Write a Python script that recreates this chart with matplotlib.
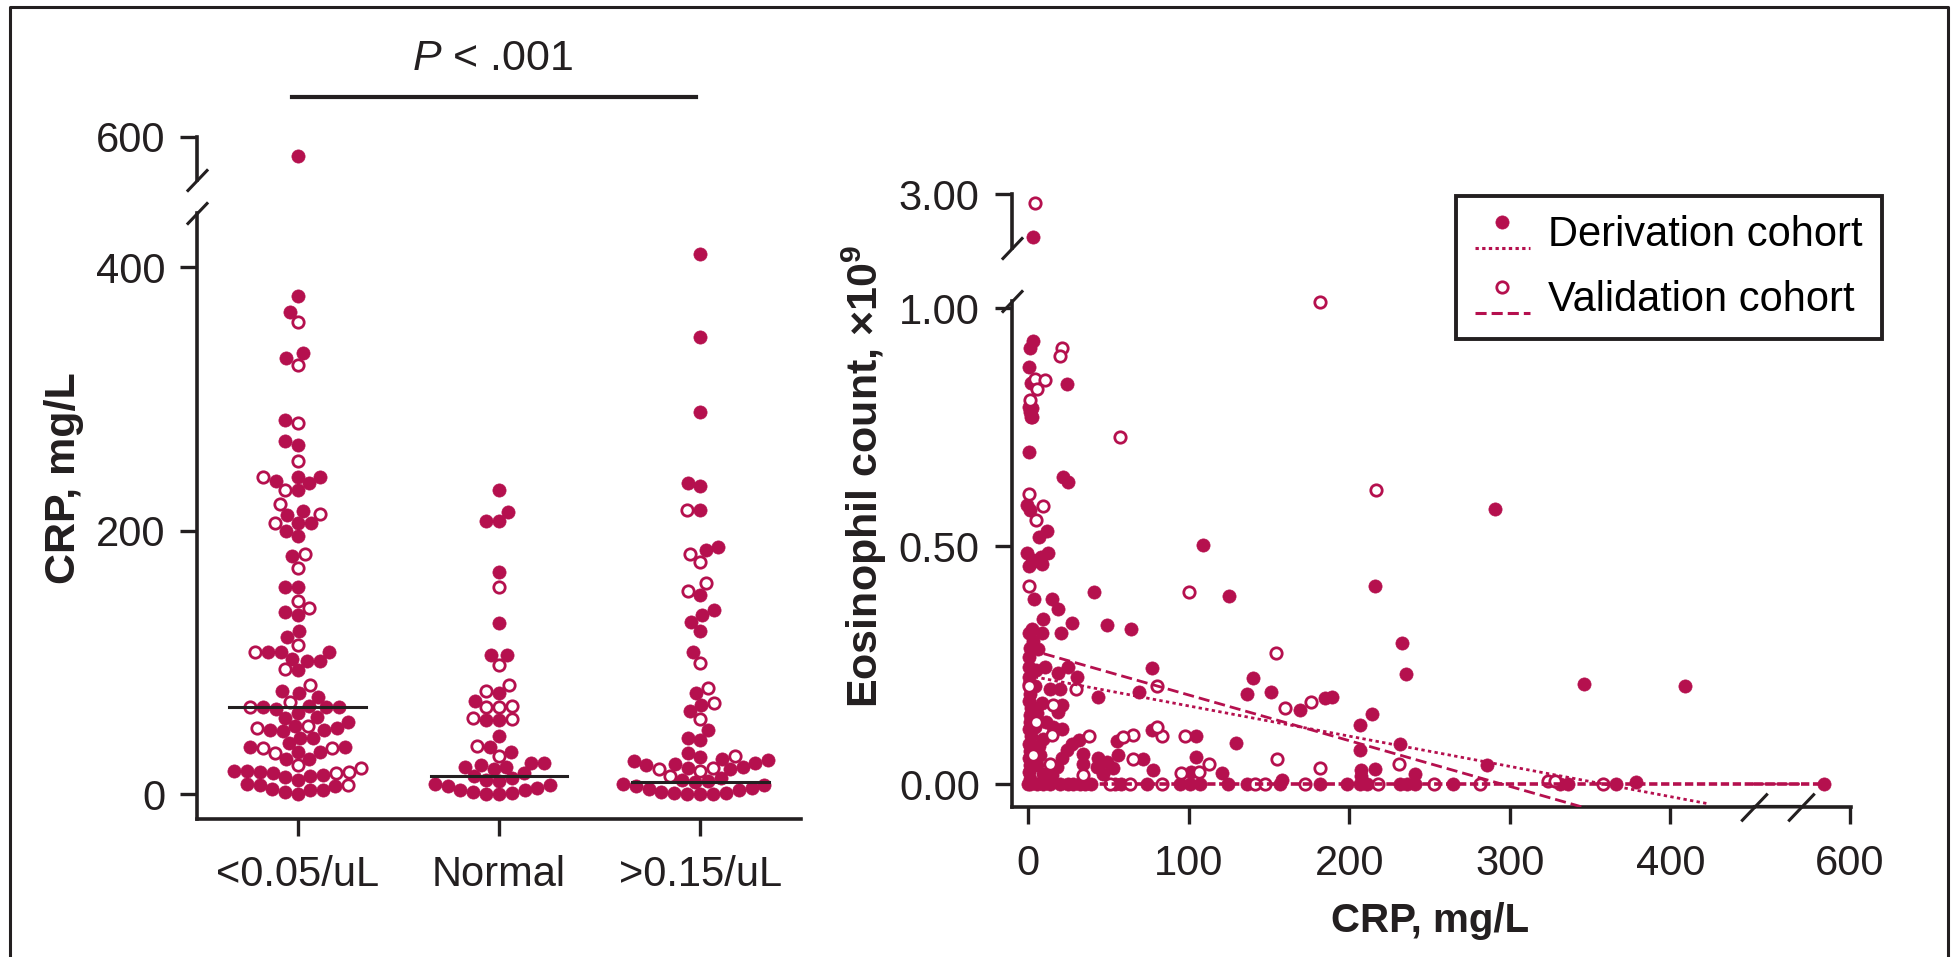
import numpy as np
import matplotlib
matplotlib.use("Agg")
import matplotlib.pyplot as plt
from matplotlib.lines import Line2D
from matplotlib.patches import ConnectionPatch
from matplotlib.legend_handler import HandlerBase

W, H = 1953, 957
CRIMSON = "#B5104E"
INK = "#231F20"

# ---- left panel: CRP by eosinophil group (derivation = filled, validation = open)
groups = ["<0.05/uL", "Normal", ">0.15/uL"]
low_deriv = [585, 378, 366, 335, 331, 284, 268, 265, 241, 241, 238, 236, 231, 215, 212,
             206, 206, 200, 196, 181, 157, 157, 138, 136, 124, 119, 108, 108, 108, 103,
             101, 101, 94, 78, 77, 74, 67, 66, 66, 66, 65, 62, 59, 58, 55, 52, 50, 49, 49,
             48, 43, 43, 39, 36, 36, 32, 32, 27, 27, 18, 18, 17, 16, 15, 14, 13, 11, 8, 7,
             6, 4, 3, 3, 2, 0]
low_valid = [358, 326, 282, 253, 241, 231, 220, 213, 206, 182, 172, 147, 141, 113, 108,
             95, 83, 70, 66, 52, 50, 35, 35, 31, 22, 20, 17, 16, 7]
normal_deriv = [231, 214, 207, 207, 169, 130, 106, 106, 77, 71, 56, 56, 44, 36, 32, 24,
                24, 22, 21, 21, 19, 16, 14, 12, 11, 10, 8, 7, 6, 5, 3, 3, 2, 1, 0, 0]
normal_valid = [157, 98, 83, 78, 67, 66, 66, 58, 57, 37, 29]
high_deriv = [410, 347, 290, 236, 234, 216, 188, 185, 151, 140, 136, 131, 124, 108, 77,
              68, 63, 49, 43, 41, 31, 28, 27, 26, 25, 24, 23, 22, 21, 20, 19, 12, 11, 10,
              9, 8, 7, 6, 5, 4, 3, 2, 1, 1, 0, 0, 0]
high_valid = [216, 182, 176, 160, 154, 100, 81, 69, 57, 29, 20, 19, 18, 14]
group_medians = [66, 14, 9]
left_yticks = [0, 200, 400]
left_yticks_top = [600]

# ---- right panel: eosinophil count vs CRP
deriv_points = [
    (3, 2.76),
    (3.1, 0.931), (1, 0.916), (0.5, 0.875), (1.5, 0.843), (2, 0.79), (2.5, 0.77),
    (23.9, 0.840), (0.5, 0.793), (1.1, 0.782), (1.7, 0.772), (0.6, 0.697), (21.4, 0.646),
    (24.9, 0.635), (290.8, 0.578), (-1, 0.586), (1.1, 0.576), (11.8, 0.532), (6.9, 0.518),
    (109, 0.502), (-0.5, 0.486), (12.5, 0.485), (7.8, 0.477), (2.7, 0.47), (0.3, 0.458),
    (2.3, 0.467), (8.5, 0.463), (3.6, 0.388), (14.5, 0.388), (18.7, 0.367), (41.1, 0.404),
    (125.1, 0.394), (215.8, 0.415), (9.4, 0.347), (27.4, 0.338), (49.2, 0.334), (64, 0.326),
    (0.3, 0.317), (2.3, 0.325), (8.5, 0.317), (20.2, 0.317), (1.1, 0.285), (6.2, 0.283),
    (0.3, 0.267), (0.6, 0.246), (0.5, 0.225), (233, 0.296), (235.1, 0.231), (76.9, 0.244),
    (140.2, 0.222), (136, 0.189), (151, 0.193), (169.3, 0.155), (184.9, 0.180), (189, 0.182),
    (214, 0.147), (206.7, 0.125), (206.7, 0.071), (231.6, 0.084), (285.6, 0.040), (216, 0.031),
    (241, 0.022), (207, 0.029), (207, 0.016), (129.4, 0.086), (104.5, 0.056), (120.5, 0.024),
    (101.2, 0.025), (104.5, 0.101), (76.9, 0.113), (55.1, 0.09), (31.8, 0.092), (27, 0.085),
    (23.9, 0.071), (20.8, 0.054), (17.7, 0.036), (14.6, 0.019), (15.6, 0.12), (20.8, 0.115),
    (20.8, 0.166), (18.7, 0.152), (13.5, 0.199), (19.8, 0.199), (18.7, 0.233), (24.9, 0.245),
    (30.2, 0.225), (43.2, 0.182), (69, 0.193), (56.1, 0.061), (71.3, 0.052), (77.9, 0.029),
    (43.6, 0.054), (48.8, 0.047), (53, 0.033), (42.6, 0.036), (46.7, 0.022), (34.3, 0.064),
    (34.3, 0.043), (346.4, 0.211), (409, 0.206), (331, 0.0), (336, 0.0), (366, 0.0),
    (378.6, 0.005), (584, 0.0),
    (0.5, 0.21), (1, 0.19), (0.5, 0.175), (1.5, 0.16), (0.8, 0.145), (1.2, 0.13), (0.5, 0.115),
    (1.5, 0.10), (0.7, 0.085), (1.2, 0.07), (0.6, 0.055), (1.0, 0.04), (0.5, 0.025), (1.3, 0.01),
    (5, 0.24), (8.5, 0.17), (5.2, 0.15), (9, 0.095), (6.5, 0.08), (7.5, 0.06), (5.5, 0.04),
    (9, 0.02), (4, 0.12), (3, 0.3), (10.5, 0.245), (4, 0.205), (11, 0.13),
    (0, 0), (1, 0), (5.2, 0), (9.2, 0), (13.4, 0), (19.6, 0), (24.8, 0), (27.9, 0), (32.1, 0),
    (35.2, 0), (39.3, 0), (54, 0), (58, 0), (73.7, 0), (94.5, 0), (100.7, 0), (107, 0),
    (124.6, 0), (136, 0), (156.8, 0), (158, 0.008), (181.7, 0), (198.3, 0), (206.7, 0),
    (210.8, 0), (231.6, 0), (235.7, 0), (240.9, 0), (264.8, 0),
]
valid_points = [
    (4, 2.95), (181.9, 1.013), (20.8, 0.915), (19.8, 0.899), (4.2, 0.85), (10.4, 0.849),
    (5.2, 0.829), (1.1, 0.807), (57.1, 0.730), (216.6, 0.618), (0.6, 0.609), (9, 0.584),
    (4.8, 0.555), (0.6, 0.415), (100.1, 0.404), (154.1, 0.275), (80, 0.206), (0.3, 0.206),
    (160, 0.160), (176, 0.173), (231, 0.042), (181.7, 0.033), (155, 0.052), (112.6, 0.042),
    (106.5, 0.026), (95, 0.023), (97.6, 0.101), (83.1, 0.101), (80, 0.12), (65.4, 0.103),
    (59.2, 0.099), (38, 0.101), (13.5, 0.043), (14.7, 0.103), (15.6, 0.166), (29.7, 0.199),
    (65.4, 0.052), (34.3, 0.019), (324, 0.007), (328, 0.007), (358.3, 0.0), (5, 0.13), (3, 0.06),
    (50.8, 0), (63.3, 0), (83, 0), (141.3, 0), (147.5, 0), (172.4, 0), (217.7, 0), (252.8, 0),
    (281.4, 0),
]
# fitted lines: (intercept, slope, x range)
deriv_fit = (0.2275, -0.000635, 0, 423)
valid_fit = (0.283, -0.00096, 0, 360)
zero_line_x = (0, 585)
right_xticks = [0, 100, 200, 300, 400]
right_xticks_far = [600]
right_yticks = [0.0, 0.5, 1.0]
right_yticks_top = [3.0]

plt.rcParams["font.family"] = ["Liberation Sans", "DejaVu Sans"]
plt.rcParams["mathtext.fontset"] = "custom"
plt.rcParams["mathtext.rm"] = "Liberation Sans"
plt.rcParams["mathtext.it"] = "Liberation Sans:italic"
plt.rcParams["mathtext.bf"] = "Liberation Sans:bold"
plt.rcParams["lines.scale_dashes"] = False

TICK_FS = 30
DOTTED = (0, (2.4, 2.4))
DASHED = (0, (8, 3.6))
ZERO_DASH = (0, (6, 2.6))
MS_FILL, MS_OPEN, MEW_OPEN = 9.5, 8.2, 2.0


def add_axes_px(fig, left, top, right, bottom):
    return fig.add_axes([left / W, 1 - bottom / H, (right - left) / W, (bottom - top) / H])


def style_axis(ax, visible, xpad=14, ypad=11):
    for side, sp in ax.spines.items():
        sp.set_visible(side in visible)
        sp.set_linewidth(2.6)
        sp.set_color(INK)
    ax.set_facecolor("none")
    ax.tick_params(direction="out", length=12, width=2.4, color=INK,
                   labelsize=TICK_FS, labelcolor=INK)
    ax.tick_params(axis="x", pad=xpad)
    ax.tick_params(axis="y", pad=ypad)
    if "bottom" not in visible:
        ax.set_xticks([])
    if "left" not in visible:
        ax.set_yticks([])


def break_mark(ax, xa, ya, size=16):
    ax.plot([xa], [ya], marker=[(-1, -1.05), (1, 1.05)], ms=size, mew=2.2, color=INK,
            transform=ax.transAxes, clip_on=False, zorder=6)


def swarm_offsets(values, diam, y_scale, x_scale):
    values = np.asarray(values, dtype=float)
    offsets = np.zeros(len(values))
    placed = []
    for i in np.argsort(values, kind="stable"):
        y = values[i] * y_scale
        near = [(px, py) for px, py in placed if abs(py - y) < diam]
        cands = [0.0]
        for px, py in near:
            dx = np.sqrt(diam ** 2 - (py - y) ** 2)
            cands += [px + dx, px - dx]
        cands.sort(key=lambda c: (round(abs(c), 6), c))
        for c in cands:
            if all((c - px) ** 2 + (y - py) ** 2 >= diam ** 2 - 1e-6 for px, py in near):
                offsets[i] = c
                placed.append((c, y))
                break
    return offsets / x_scale


def plot_in_view(ax, x, y, filled):
    x = np.asarray(x, dtype=float)
    y = np.asarray(y, dtype=float)
    x0, x1 = ax.get_xlim()
    y0, y1 = ax.get_ylim()
    m = (x >= x0) & (x <= x1) & (y >= y0) & (y <= y1)
    if filled:
        ax.plot(x[m], y[m], ls="none", marker="o", ms=MS_FILL, mfc=CRIMSON, mec=CRIMSON,
                mew=0.5, clip_on=False, zorder=3)
    else:
        ax.plot(x[m], y[m], ls="none", marker="o", ms=MS_OPEN, mfc="white", mec=CRIMSON,
                mew=MEW_OPEN, clip_on=False, zorder=4)


class MarkerAboveLine(HandlerBase):
    def __init__(self, filled, dashes):
        super().__init__()
        self.filled = filled
        self.dashes = dashes

    def create_artists(self, legend, orig_handle, xdescent, ydescent, width, height,
                       fontsize, trans):
        x0 = -xdescent
        y_line = -ydescent - 0.06 * height
        y_mark = -ydescent + 0.82 * height
        seg = Line2D([x0, x0 + width], [y_line, y_line], color=CRIMSON, lw=2.2,
                     linestyle=self.dashes, transform=trans)
        dot = Line2D([x0 + width / 2], [y_mark], ls="none", marker="o",
                     ms=MS_FILL if self.filled else MS_OPEN,
                     mfc=CRIMSON if self.filled else "white", mec=CRIMSON,
                     mew=0.5 if self.filled else MEW_OPEN, transform=trans)
        return [seg, dot]


fig = plt.figure(figsize=(W / 100, H / 100), dpi=100)

# outer frame
fig.add_artist(Line2D([10 / W, 10 / W, 1948 / W, 1948 / W], [0, 1 - 7 / H, 1 - 7 / H, 0],
                      transform=fig.transFigure, color=INK, lw=2.2))

# ---------------- left panel ----------------
ax_lo = add_axes_px(fig, 197, 213, 801, 819)
ax_hi = add_axes_px(fig, 197, 136.7, 801, 180)
y_px = (794.3 - 530.7) / 200.0
x_px = 201.3
ax_lo.set_xlim(-0.5, 2.5)
ax_hi.set_xlim(-0.5, 2.5)
ax_lo.set_ylim(-(819 - 794.3) / y_px, (794.3 - 213) / y_px)
ax_hi.set_ylim(600 - (180 - 136.7) / y_px, 600)
style_axis(ax_lo, ["left", "bottom"])
style_axis(ax_hi, ["left"])
ax_lo.set_yticks(left_yticks)
ax_lo.set_yticklabels([str(v) for v in left_yticks])
ax_hi.set_yticks(left_yticks_top)
ax_hi.set_yticklabels([str(v) for v in left_yticks_top])
ax_lo.set_xticks(range(len(groups)))
ax_lo.set_xticklabels(groups)

group_data = [(low_deriv, low_valid), (normal_deriv, normal_valid), (high_deriv, high_valid)]
for gi, (d_vals, v_vals) in enumerate(group_data):
    vals = np.array(d_vals + v_vals, dtype=float)
    kind = np.array([True] * len(d_vals) + [False] * len(v_vals))
    xs = gi + swarm_offsets(vals, 13.0, y_px, x_px)
    for ax in (ax_lo, ax_hi):
        plot_in_view(ax, xs[kind], vals[kind], True)
        plot_in_view(ax, xs[~kind], vals[~kind], False)
    ax_lo.plot([gi - 0.34, gi + 0.34], [group_medians[gi]] * 2, color=INK, lw=2.2, zorder=5)

break_mark(ax_hi, 0, 0)
break_mark(ax_lo, 0, 1)

ax_hi.plot([-0.03, 1.98], [630.4, 630.4], color=INK, lw=3, clip_on=False)
ax_hi.text(0.97, 650.7, r"$\mathit{P}$ < .001", ha="center", va="baseline",
           fontsize=31, color=INK, clip_on=False)
fig.text(64 / W, 1 - 478 / H, "CRP, mg/L", rotation=90, ha="center", va="center",
         fontsize=31, fontweight="bold", color=INK)

# ---------------- right panel ----------------
ax_r = add_axes_px(fig, 1011.7, 301, 1754, 806.7)
ax_r2 = add_axes_px(fig, 1801, 301, 1851, 806.7)
ax_rt = add_axes_px(fig, 1011.7, 194, 1754, 248)
ex = 1.605
ey = 476.0
ax_r.set_xlim(-(1028.3 - 1011.7) / ex, (1754 - 1028.3) / ex)
ax_r.set_ylim(-(806.7 - 784) / ey, (784 - 301) / ey)
ax_r2.set_xlim(600 - (1850 - 1801) / ex, 600 + 1 / ex)
ax_r2.set_ylim(ax_r.get_ylim())
ax_rt.set_xlim(ax_r.get_xlim())
ax_rt.set_ylim(2.7, 3.0)
style_axis(ax_r, ["left", "bottom"], xpad=15)
style_axis(ax_r2, ["bottom"], xpad=15)
style_axis(ax_rt, ["left"])
ax_r.set_xticks(right_xticks)
ax_r.set_xticklabels([str(v) for v in right_xticks])
ax_r2.set_xticks(right_xticks_far)
ax_r2.set_xticklabels([str(v) for v in right_xticks_far])
ax_r.set_yticks(right_yticks)
ax_r.set_yticklabels([f"{v:.2f}" for v in right_yticks])
ax_rt.set_yticks(right_yticks_top)
ax_rt.set_yticklabels([f"{v:.2f}" for v in right_yticks_top])

# fitted lines and zero reference line
for (b0, b1, xa, xb), style in ((deriv_fit, DOTTED), (valid_fit, DASHED)):
    xx = np.array([xa, xb], dtype=float)
    ax_r.plot(xx, b0 + b1 * xx, color=CRIMSON, lw=2.0, linestyle=style, zorder=5)
ax_r.plot([zero_line_x[0], ax_r.get_xlim()[1]], [0, 0], color=CRIMSON, lw=2.6,
          linestyle=ZERO_DASH, zorder=5)
ax_r2.plot([ax_r2.get_xlim()[0], zero_line_x[1]], [0, 0], color=CRIMSON, lw=2.6,
           linestyle=ZERO_DASH, zorder=5)
fig.add_artist(ConnectionPatch(xyA=(ax_r.get_xlim()[1], 0), coordsA=ax_r.transData,
                               xyB=(ax_r2.get_xlim()[0], 0), coordsB=ax_r2.transData,
                               color=CRIMSON, lw=2.6, linestyle=ZERO_DASH))
fig.add_artist(ConnectionPatch(xyA=(1, 0), coordsA=ax_r.transAxes, xyB=(0, 0),
                               coordsB=ax_r2.transAxes, color=INK, lw=2.6))

d_arr = np.array(deriv_points)
v_arr = np.array(valid_points)
for ax in (ax_r, ax_r2, ax_rt):
    plot_in_view(ax, d_arr[:, 0], d_arr[:, 1], True)
    plot_in_view(ax, v_arr[:, 0], v_arr[:, 1], False)

break_mark(ax_rt, 0, 0)
break_mark(ax_r, 0, 1)
break_mark(ax_r, 1, 0, size=20)
break_mark(ax_r2, 0, 0, size=20)

fig.text(864 / W, 1 - 476.5 / H, "Eosinophil count, \u00d710$^{\\mathbf{9}}$", rotation=90,
         ha="center", va="center", fontsize=31, fontweight="bold", color=INK)
fig.text(1430 / W, 1 - 921 / H, "CRP, mg/L", ha="center", va="center",
         fontsize=29, fontweight="bold", color=INK)

h_d = Line2D([], [])
h_v = Line2D([], [])
leg = fig.legend([h_d, h_v], ["Derivation cohort", "Validation cohort"],
                 handler_map={h_d: MarkerAboveLine(True, DOTTED),
                              h_v: MarkerAboveLine(False, DASHED)},
                 loc="upper right", bbox_to_anchor=(1881.7 / W, 1 - 196 / H),
                 bbox_transform=fig.transFigure, borderaxespad=0, frameon=True,
                 fancybox=False, edgecolor=INK, framealpha=1, borderpad=0.45,
                 handlelength=1.32, handletextpad=0.45, labelspacing=0.6,
                 fontsize=TICK_FS)
leg.get_frame().set_linewidth(2.8)

fig.savefig("out.png", dpi=100)
